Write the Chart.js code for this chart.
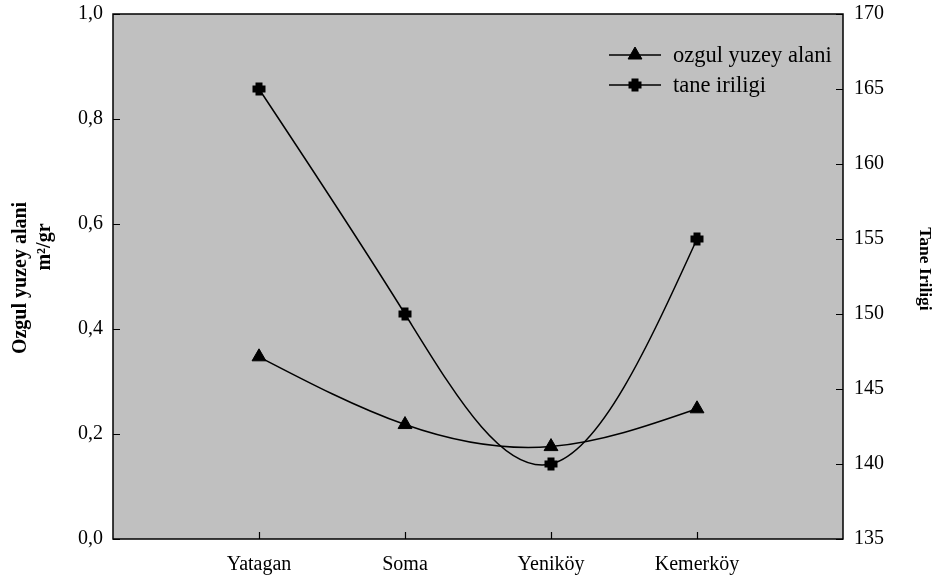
<!DOCTYPE html>
<html>
<head>
<meta charset="utf-8">
<script src="https://cdn.jsdelivr.net/npm/chart.js@4/dist/chart.umd.min.js"></script>
<style>
  html, body { margin: 0; padding: 0; background: #ffffff; }
  #wrap { width: 939px; height: 578px; }
</style>
</head>
<body>
<div id="wrap"><canvas id="c" width="939" height="578"></canvas></div>
<script>
// Sites along the x axis
const categories = ['Yatagan', 'Soma', 'Yeniköy', 'Kemerköy'];
// Specific surface area, m²/gr (left axis)
const surfaceArea = [0.347, 0.218, 0.176, 0.248];
// Grain size (right axis)
const grainSize = [165, 150, 140, 155];
// Axis tick values
const leftTicks = [0, 0.2, 0.4, 0.6, 0.8, 1.0];
const rightTicks = [135, 140, 145, 150, 155, 160, 165, 170];

const FONT = '"Liberation Serif", "Times New Roman", serif';

const toPoints = vals => vals.map((v, i) => ({ x: i + 1, y: v }));

// Replace the default Bézier handles with those of a natural cubic spline
// through the point elements (pixel space, evenly spaced x).
const naturalSpline = {
  id: 'naturalSpline',
  beforeDatasetDraw(chart, args) {
    const meta = args.meta;
    const pts = meta.data;
    const n = pts.length;
    if (n < 3) return;
    meta.dataset.updateControlPoints(chart.chartArea, 'x');
    const h = pts[1].x - pts[0].x;
    const y = pts.map(p => p.y);
    // Solve tridiagonal system for second derivatives, M0 = Mn-1 = 0
    const M = new Array(n).fill(0);
    const a = [], b = [], c = [], d = [];
    for (let i = 1; i < n - 1; i++) {
      a.push(1); b.push(4); c.push(1);
      d.push(6 * (y[i - 1] - 2 * y[i] + y[i + 1]) / (h * h));
    }
    const m = d.length;
    for (let i = 1; i < m; i++) {
      const w = a[i] / b[i - 1];
      b[i] -= w * c[i - 1];
      d[i] -= w * d[i - 1];
    }
    const sol = new Array(m);
    sol[m - 1] = d[m - 1] / b[m - 1];
    for (let i = m - 2; i >= 0; i--) sol[i] = (d[i] - c[i] * sol[i + 1]) / b[i];
    for (let i = 0; i < m; i++) M[i + 1] = sol[i];
    // Node slopes
    const D = new Array(n);
    for (let i = 0; i < n - 1; i++) {
      D[i] = (y[i + 1] - y[i]) / h - h * (2 * M[i] + M[i + 1]) / 6;
    }
    D[n - 1] = (y[n - 1] - y[n - 2]) / h + h * (2 * M[n - 1] + M[n - 2]) / 6;
    for (let i = 0; i < n; i++) {
      const p = pts[i];
      p.cp1x = p.x - h / 3; p.cp1y = p.y - D[i] * h / 3;
      p.cp2x = p.x + h / 3; p.cp2y = p.y + D[i] * h / 3;
    }
  }
};

// Frame, inward tick marks, axis titles and the in-plot legend
const decorations = {
  id: 'decorations',
  afterDraw(chart) {
    const ctx = chart.ctx;
    const a = chart.chartArea;
    const sx = chart.scales.x, yl = chart.scales.yL, yr = chart.scales.yR;
    ctx.save();
    ctx.strokeStyle = '#000';
    ctx.lineWidth = 1.5;
    ctx.strokeRect(a.left, a.top, a.right - a.left, a.bottom - a.top);

    ctx.lineWidth = 1.2;
    ctx.beginPath();
    leftTicks.forEach(v => {
      const y = Math.round(yl.getPixelForValue(v)) + 0.5;
      ctx.moveTo(a.left, y); ctx.lineTo(a.left + 7, y);
    });
    rightTicks.forEach(v => {
      const y = Math.round(yr.getPixelForValue(v)) + 0.5;
      ctx.moveTo(a.right, y); ctx.lineTo(a.right - 7, y);
    });
    categories.forEach((c, i) => {
      const x = Math.round(sx.getPixelForValue(i + 1)) + 0.5;
      ctx.moveTo(x, a.bottom); ctx.lineTo(x, a.bottom - 7);
    });
    ctx.stroke();

    // Left axis title (two lines, rotated)
    ctx.fillStyle = '#000';
    ctx.textAlign = 'center';
    ctx.textBaseline = 'middle';
    ctx.save();
    ctx.translate(21, 278);
    ctx.rotate(-Math.PI / 2);
    ctx.font = 'bold 20px ' + FONT;
    ctx.fillText('Ozgul yuzey alani', 0, 0);
    ctx.restore();
    ctx.save();
    ctx.translate(45, 247);
    ctx.rotate(-Math.PI / 2);
    ctx.font = 'bold 20px ' + FONT;
    ctx.fillText('m²/gr', 0, 0);
    ctx.restore();

    // Right axis title
    ctx.save();
    ctx.translate(925, 269);
    ctx.rotate(Math.PI / 2);
    ctx.font = 'bold 17.5px ' + FONT;
    ctx.fillText('Tane Iriligi', 0, 0);
    ctx.restore();

    // Legend
    const lx0 = 609, lx1 = 661, tx = 673;
    const rows = [55, 85];
    chart.data.datasets.forEach((ds, i) => {
      const y = rows[i];
      ctx.strokeStyle = '#000';
      ctx.lineWidth = 1.5;
      ctx.beginPath();
      ctx.moveTo(lx0, y); ctx.lineTo(lx1, y);
      ctx.stroke();
      ctx.fillStyle = '#000';
      ctx.lineWidth = ds.pointBorderWidth;
      Chart.helpers.drawPoint(ctx, {
        pointStyle: ds.pointStyle,
        radius: ds.pointRadius,
        borderWidth: ds.pointBorderWidth,
        rotation: 0
      }, (lx0 + lx1) / 2, y);
      ctx.fillStyle = '#000';
      ctx.textAlign = 'left';
      ctx.textBaseline = 'middle';
      ctx.font = '22.5px ' + FONT;
      ctx.fillText(ds.label, tx, y + 1);
    });
    ctx.restore();
  }
};

// Plot-area background
const plotBg = {
  id: 'plotBg',
  beforeDraw(chart) {
    const a = chart.chartArea, ctx = chart.ctx;
    ctx.save();
    ctx.fillStyle = '#c0c0c0';
    ctx.fillRect(a.left, a.top, a.right - a.left, a.bottom - a.top);
    ctx.restore();
  }
};

const noOverflow = s => { s.paddingTop = 0; s.paddingBottom = 0; s.paddingLeft = 0; s.paddingRight = 0; };

new Chart(document.getElementById('c'), {
  type: 'line',
  data: {
    datasets: [
      {
        label: 'ozgul yuzey alani',
        data: toPoints(surfaceArea),
        yAxisID: 'yL',
        borderColor: '#000',
        backgroundColor: '#000',
        borderWidth: 1.5,
        pointStyle: 'triangle',
        pointRadius: 8,
        pointBorderWidth: 1,
        pointBackgroundColor: '#000',
        pointBorderColor: '#000',
        tension: 0.4,
        capBezierPoints: false,
        fill: false
      },
      {
        label: 'tane iriligi',
        data: toPoints(grainSize),
        yAxisID: 'yR',
        borderColor: '#000',
        backgroundColor: '#000',
        borderWidth: 1.5,
        pointStyle: 'cross',
        pointRadius: 6.5,
        pointBorderWidth: 7,
        pointBackgroundColor: '#000',
        pointBorderColor: '#000',
        tension: 0.4,
        capBezierPoints: false,
        fill: false
      }
    ]
  },
  options: {
    responsive: false,
    animation: false,
    layout: { padding: { top: 14, left: 0, right: 0, bottom: 0 } },
    plugins: { legend: { display: false }, tooltip: { enabled: false } },
    scales: {
      x: {
        type: 'linear',
        min: 0, max: 5,
        afterFit: s => { s.height = 39; noOverflow(s); },
        afterBuildTicks: s => { s.ticks = categories.map((c, i) => ({ value: i + 1 })); },
        grid: { display: false },
        border: { display: false },
        ticks: {
          color: '#000',
          font: { family: FONT, size: 20 },
          padding: 6,
          maxRotation: 0,
          autoSkip: false,
          callback: v => categories[v - 1] || ''
        }
      },
      yL: {
        position: 'left',
        min: 0, max: 1,
        afterFit: s => { s.width = 113; noOverflow(s); },
        afterBuildTicks: s => { s.ticks = leftTicks.map(v => ({ value: v })); },
        grid: { display: false },
        border: { display: false },
        ticks: {
          color: '#000',
          font: { family: FONT, size: 20 },
          padding: 2,
          callback: v => v.toFixed(1).replace('.', ',')
        }
      },
      yR: {
        position: 'right',
        min: 135, max: 170,
        afterFit: s => { s.width = 96; noOverflow(s); },
        afterBuildTicks: s => { s.ticks = rightTicks.map(v => ({ value: v })); },
        grid: { display: false },
        border: { display: false },
        ticks: {
          color: '#000',
          font: { family: FONT, size: 20 },
          padding: 3,
          callback: v => String(v)
        }
      }
    }
  },
  plugins: [plotBg, naturalSpline, decorations]
});
</script>
</body>
</html>
